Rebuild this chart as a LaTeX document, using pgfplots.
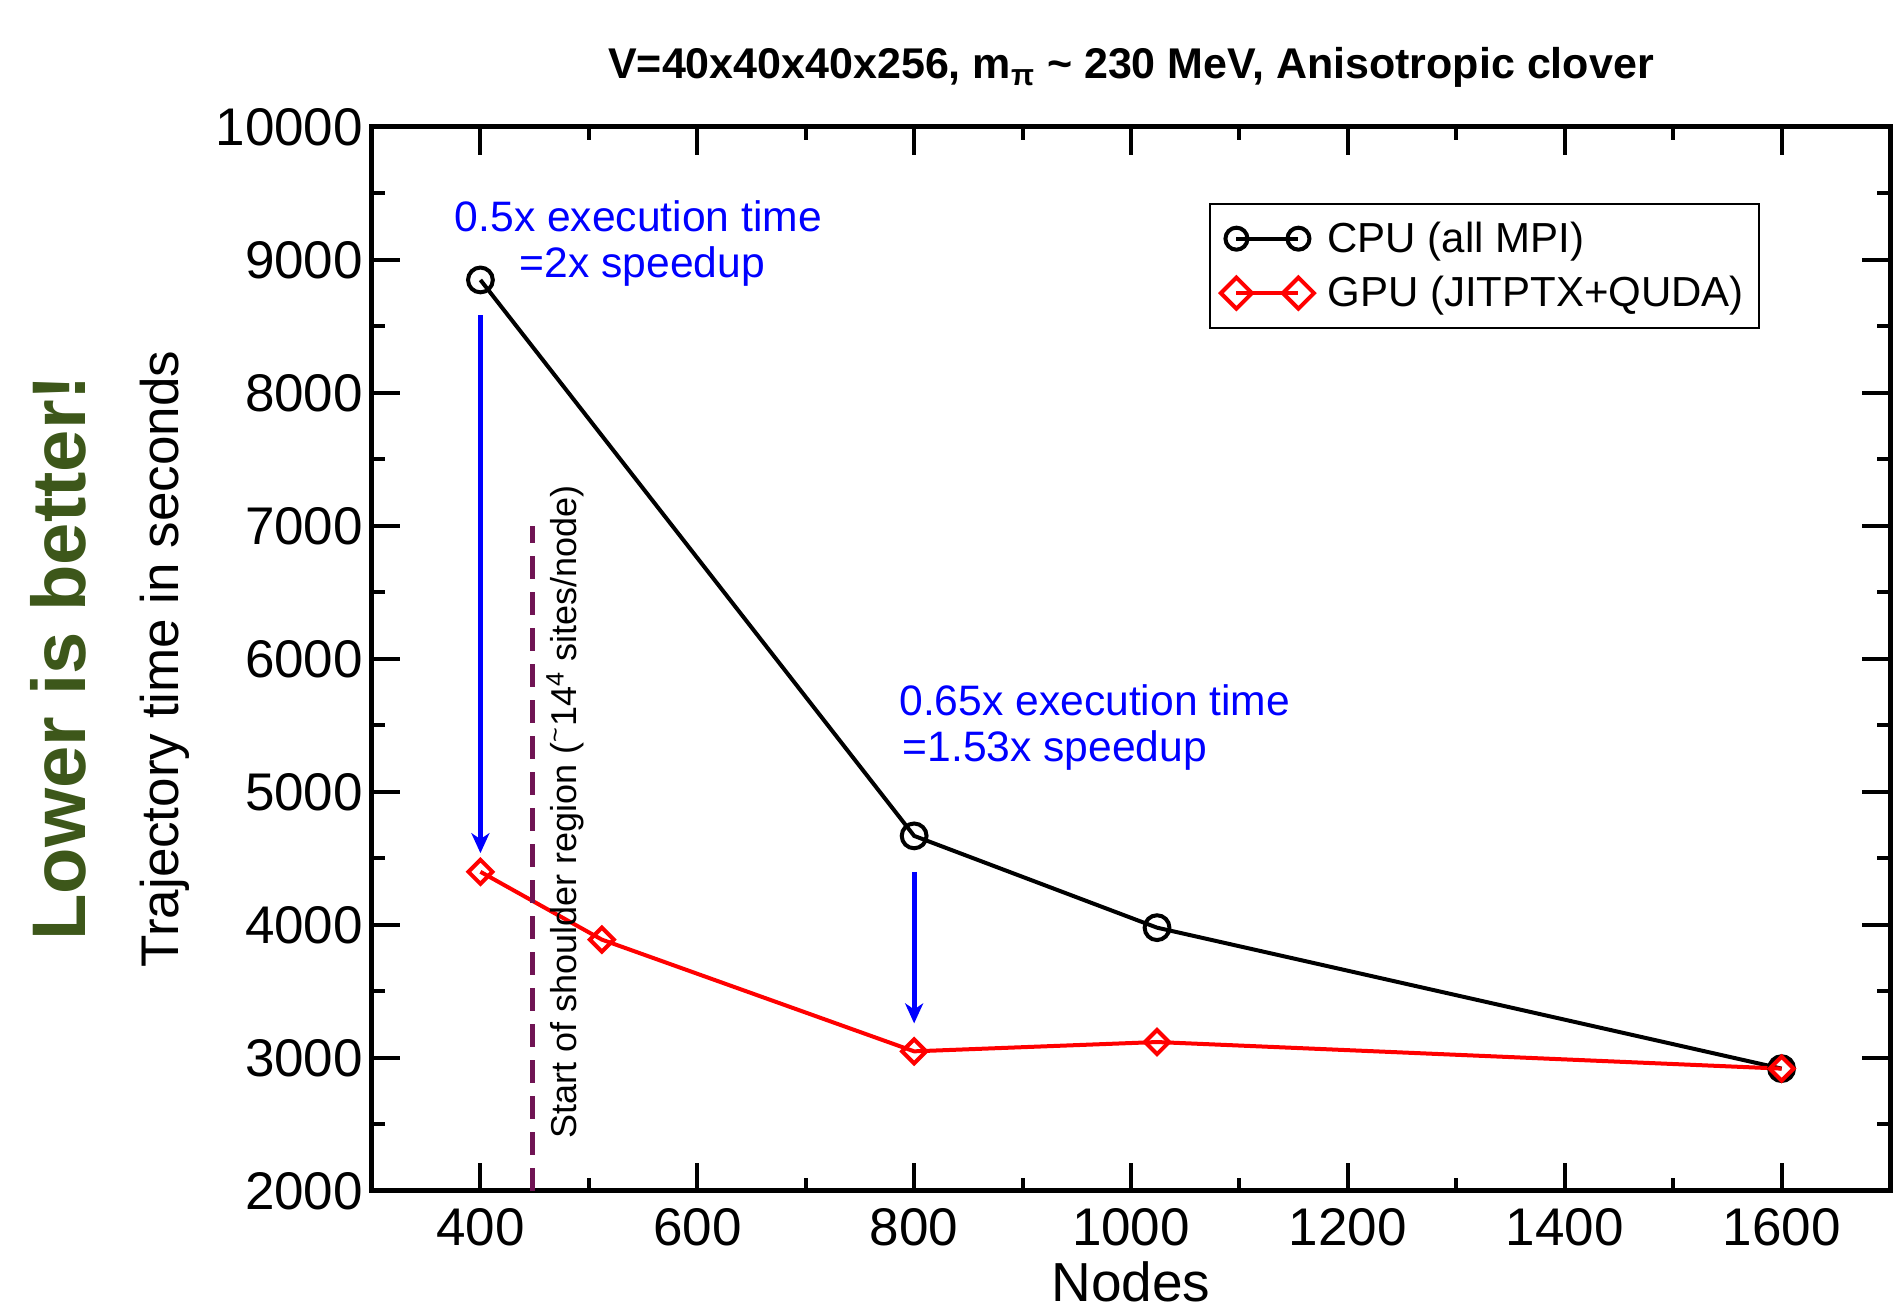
\documentclass[border=0pt]{standalone}
\usepackage{fontspec}
\setmainfont{Liberation Sans}
\usepackage{graphicx}
\usepackage{pgfplots}
\pgfplotsset{compat=1.18}
\usetikzlibrary{arrows.meta}
\definecolor{lowgreen}{RGB}{61,87,26}
\definecolor{shoulder}{RGB}{112,20,84}
\begin{document}
\begin{tikzpicture}
\useasboundingbox (-186pt,-62pt) rectangle (760.5pt,595.5pt);
\begin{axis}[
  at={(0,0)}, anchor=south west,
  scale only axis, width=759pt, height=532pt,
  xmin=300, xmax=1700, ymin=2000, ymax=10000,
  xtick={400,600,...,1600}, ytick={2000,3000,...,10000},
  scaled y ticks=false, scaled x ticks=false,
  minor x tick num=1, minor y tick num=1,
  tick align=inside,
  major tick length=14pt, minor tick length=6.5pt,
  tick style={line width=2pt, black},
  axis line style={line width=2.5pt},
  clip=false,
  /pgf/number format/assume math mode=true,
  /pgf/number format/1000 sep={},
  tick label style={font=\fontsize{26.5}{30}\selectfont},
  xticklabel style={yshift=-5pt},
  yticklabel style={xshift=-1pt},
  xlabel={Nodes},
  xlabel style={font=\fontsize{27.5}{32}\selectfont, at={(rel axis cs:0.5,-0.1034)}, anchor=base},
  ylabel={Trajectory time in seconds},
  ylabel style={font=\fontsize{26.5}{30}\selectfont, at={(rel axis cs:-0.1364,0.5)}, anchor=center},
  title={V=40x40x40x256, m\textsubscript{π} \textasciitilde{} 230 MeV, Anisotropic clover},
  title style={at={(rel axis cs:0.5,1.0442)}, anchor=base, yshift=-5.5pt, font=\bfseries\fontsize{21.5}{25}\selectfont},
  legend style={at={(0.550,0.9286)}, anchor=north west, draw=black, line width=1pt,
    font=\fontsize{21}{25}\selectfont, inner xsep=5.5pt, inner ysep=7pt, row sep=6.5pt,
    xshift=1pt, cells={anchor=west}},
  legend image code/.code={\draw[mark repeat=1, mark phase=1, mark size=5.5pt] plot coordinates {(0pt,0pt) (31pt,0pt)};\path (42.5pt,0pt);},
]
\addplot[black, line width=2pt, mark=o, mark size=6.2pt] coordinates {(400,8850) (800,4670) (1024,3980) (1600,2920)};
\addlegendentry{CPU (all MPI)}
\addplot[red, line width=2pt, mark=square, mark size=4.25pt, mark options={rotate=45}] coordinates {(400,4400) (512,3890) (800,3050) (1024,3120) (1600,2920)};
\addlegendentry{GPU (JITPTX+QUDA)}
\addplot[shoulder, line width=2.7pt, dash pattern=on 11.5pt off 6.5pt, forget plot] coordinates {(448,2000) (448,7000)};

\draw[blue, line width=2.5pt, -{Stealth[length=10pt,width=9pt,inset=3pt]}] (axis cs:400,8585) -- (axis cs:400,4540);
\draw[blue, line width=2.5pt, -{Stealth[length=10pt,width=9pt,inset=3pt]}] (axis cs:800,4400) -- (axis cs:800,3260);
\node[blue, anchor=base west, inner sep=0pt, font=\fontsize{21.3}{25}\selectfont] at (axis cs:376,9211) {0.5x execution time};
\node[blue, anchor=base west, inner sep=0pt, font=\fontsize{21.3}{25}\selectfont] at (axis cs:436,8865) {=2x speedup};
\node[blue, anchor=base west, inner sep=0pt, font=\fontsize{21.3}{25}\selectfont] at (axis cs:786,5572) {0.65x execution time};
\node[blue, anchor=base west, inner sep=0pt, font=\fontsize{21.3}{25}\selectfont] at (axis cs:789,5226) {=1.53x speedup};
\node[rotate=90, anchor=center, inner sep=0pt, font=\fontsize{18}{20}\selectfont] at (axis cs:478,4850) {Start of shoulder region (\textsuperscript{\textasciitilde}14\textsuperscript{4} sites/node)};
\node[rotate=90, anchor=center, inner sep=0pt, text=lowgreen, font=\bfseries\fontsize{38}{40}\selectfont] at (rel axis cs:-0.2065,0.501) {Lower is better!};
\end{axis}
\end{tikzpicture}
\end{document}
